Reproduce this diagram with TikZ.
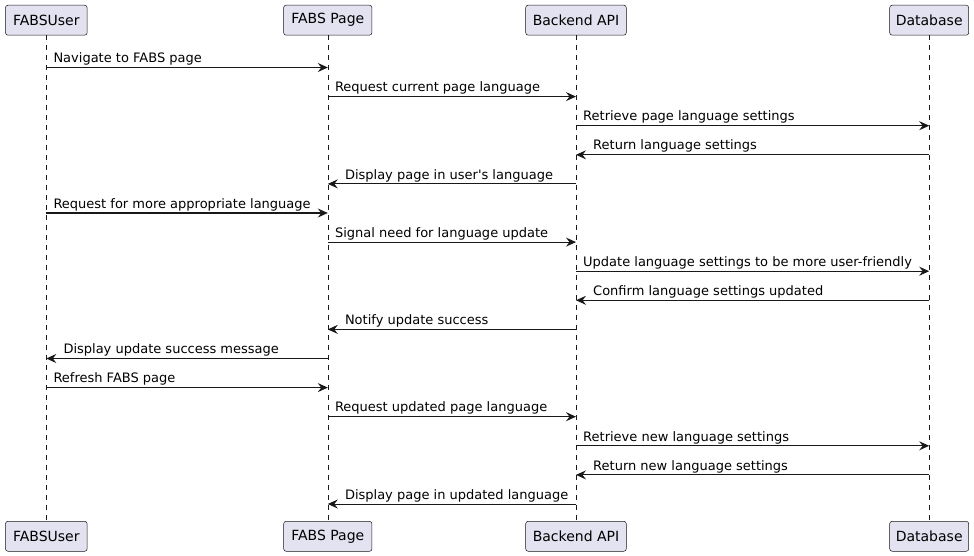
\documentclass[tikz,border=0pt]{standalone}
\usepackage{fontspec}
\setmainfont{DejaVu Sans}
\usetikzlibrary{arrows.meta}
\definecolor{partfill}{HTML}{E2E2F0}
\definecolor{partline}{HTML}{181818}
\tikzset{
  part/.style={draw=partline, line width=0.5pt, fill=partfill, rounded corners=2.5pt,
    minimum height=30pt, inner sep=0pt, font=\fontsize{14}{16}\selectfont},
  life/.style={draw=partline, line width=0.5pt, dash pattern=on 5pt off 5pt},
  msg/.style={draw=partline, line width=1pt, -{Stealth[length=10pt,width=9pt,inset=3.5pt]}},
  lbl/.style={inner sep=0pt, font=\fontsize{13}{15}\selectfont, text=black},
}
\begin{document}
\begin{tikzpicture}[x=1pt,y=1pt]
\useasboundingbox (0,0) rectangle (974,-556);
% participants
\node[part, minimum width=81.7pt] (uT) at (46.3,-20.2) {FABSUser};
\node[part, minimum width=88.3pt] (pT) at (327.8,-20.2) {FABS Page};
\node[part, minimum width=100.6pt] (bT) at (576,-20.2) {Backend API};
\node[part, minimum width=79pt] (dT) at (929.2,-20.2) {Database};
\node[part, minimum width=81.7pt] (uB) at (46.3,-536.3) {FABSUser};
\node[part, minimum width=88.3pt] (pB) at (327.8,-536.3) {FABS Page};
\node[part, minimum width=100.6pt] (bB) at (576,-536.3) {Backend API};
\node[part, minimum width=79pt] (dB) at (929.2,-536.3) {Database};
% lifelines
\draw[life] (uT.south) -- (uB.north);
\draw[life] (pT.south) -- (pB.north);
\draw[life] (bT.south) -- (bB.north);
\draw[life] (dT.south) -- (dB.north);
% messages: source, target, index, text, direction (r = left-to-right, l = right-to-left)
\foreach \s/\t/\i/\txt/\d in {
  uT/pT/0/Navigate to FABS page/r,
  pT/bT/1/Request current page language/r,
  bT/dT/2/Retrieve page language settings/r,
  dT/bT/3/Return language settings/l,
  bT/pT/4/Display page in user\textquotesingle s language/l,
  uT/pT/5/Request for more appropriate language/r,
  pT/bT/6/Signal need for language update/r,
  bT/dT/7/Update language settings to be more user-friendly/r,
  dT/bT/8/Confirm language settings updated/l,
  bT/pT/9/Notify update success/l,
  pT/uT/10/Display update success message/l,
  uT/pT/11/Refresh FABS page/r,
  pT/bT/12/Request updated page language/r,
  bT/dT/13/Retrieve new language settings/r,
  dT/bT/14/Return new language settings/l,
  bT/pT/15/Display page in updated language/l}
{
  \pgfmathsetmacro{\yy}{-67.5-29.1*\i}
  \coordinate (m\i) at (0,\yy);
  \draw[msg] (\s.south |- m\i) -- (\t.south |- m\i);
  \if\d r
    \node[lbl, anchor=base west] at ([xshift=7pt,yshift=4.8pt]\s.south |- m\i) {\txt};
  \else
    \node[lbl, anchor=base west] at ([xshift=17pt,yshift=4.8pt]\t.south |- m\i) {\txt};
  \fi
}
\end{tikzpicture}
\end{document}
